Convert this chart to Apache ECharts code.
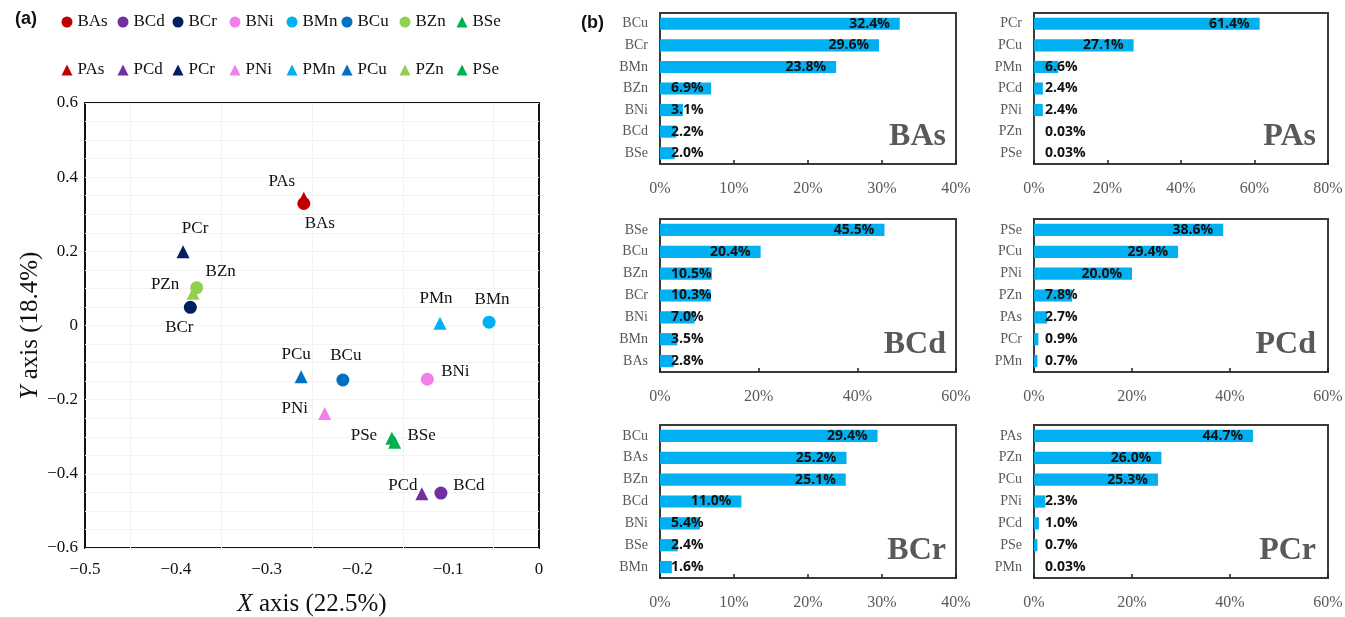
<!DOCTYPE html>
<html>
<head>
<meta charset="utf-8">
<script src="https://cdn.jsdelivr.net/npm/echarts@6/dist/echarts.min.js"></script>
<style>
  html, body { margin: 0; padding: 0; background: #fff; }
  #chart { width: 1345px; height: 617px; }
</style>
</head>
<body>
<div id="chart"></div>
<script>
// ---- (a) PCA loadings: one point per element source ----
const pointNames = ['BAs', 'BCd', 'BCr', 'BNi', 'BMn', 'BCu', 'BZn', 'BSe',
                    'PAs', 'PCd', 'PCr', 'PNi', 'PMn', 'PCu', 'PZn', 'PSe'];
const pointX = [-0.259, -0.108, -0.384, -0.123, -0.055, -0.216, -0.377, -0.159,
                -0.259, -0.129, -0.392, -0.236, -0.109, -0.262, -0.381, -0.162];
const pointY = [0.329, -0.452, 0.049, -0.145, 0.009, -0.147, 0.102, -0.315,
                0.343, -0.454, 0.199, -0.237, 0.006, -0.138, 0.087, -0.304];
const legendRow1 = ['BAs', 'BCd', 'BCr', 'BNi', 'BMn', 'BCu', 'BZn', 'BSe'];
const legendRow2 = ['PAs', 'PCd', 'PCr', 'PNi', 'PMn', 'PCu', 'PZn', 'PSe'];

// ---- (b) contribution shares (%) ----
const basCats = ['BCu', 'BCr', 'BMn', 'BZn', 'BNi', 'BCd', 'BSe'];
const basVals = [32.4, 29.6, 23.8, 6.9, 3.1, 2.2, 2.0];
const pasCats = ['PCr', 'PCu', 'PMn', 'PCd', 'PNi', 'PZn', 'PSe'];
const pasVals = [61.4, 27.1, 6.6, 2.4, 2.4, 0.03, 0.03];
const bcdCats = ['BSe', 'BCu', 'BZn', 'BCr', 'BNi', 'BMn', 'BAs'];
const bcdVals = [45.5, 20.4, 10.5, 10.3, 7.0, 3.5, 2.8];
const pcdCats = ['PSe', 'PCu', 'PNi', 'PZn', 'PAs', 'PCr', 'PMn'];
const pcdVals = [38.6, 29.4, 20.0, 7.8, 2.7, 0.9, 0.7];
const bcrCats = ['BCu', 'BAs', 'BZn', 'BCd', 'BNi', 'BSe', 'BMn'];
const bcrVals = [29.4, 25.2, 25.1, 11.0, 5.4, 2.4, 1.6];
const pcrCats = ['PAs', 'PZn', 'PCu', 'PNi', 'PCd', 'PSe', 'PMn'];
const pcrVals = [44.7, 26.0, 25.3, 2.3, 1.0, 0.7, 0.03];
const panelTitles = ['BAs', 'PAs', 'BCd', 'PCd', 'BCr', 'PCr'];
const panelMax = [40, 80, 60, 60, 40, 60];
const panelStep = [10, 20, 20, 20, 10, 20];

// ---- styling ----
const elementColor = {
  As: '#C00000', Cd: '#7030A0', Cr: '#002060', Ni: '#F27FEA',
  Mn: '#00B0F0', Cu: '#0070C0', Zn: '#92D050', Se: '#00B050'
};
const labelOffset = {
  PAs: [-22, -17], BAs: [16, 20], PCr: [12, -23], BZn: [24, -16],
  PZn: [-28, -9], BCr: [-11, 20], PMn: [-4, -25], BMn: [3, -23],
  PCu: [-5, -22], BCu: [3, -24], BNi: [28, -8], PNi: [-30, -5],
  PSe: [-28, -3], BSe: [27, -7], PCd: [-19, -8], BCd: [28, -8]
};
// left edge of each legend column (two rows share the same columns)
const legendColLeft = [61.5, 117.5, 172.5, 229.5, 286.5, 341.5, 399.5, 456.5];
const SERIF = '"Liberation Serif", "Times New Roman", serif';
const BAR_FONT = '"Open Sans", sans-serif';

function symbolFor(name) {
  return (name[0] === 'P' || name === 'BSe') ? 'triangle' : 'circle';
}
function minusFmt(v) {
  if (Math.abs(v) < 1e-9) return '0';
  return (v < 0 ? '\u2212' : '') + Math.abs(v).toFixed(1);
}

const chart = echarts.init(document.getElementById('chart'), null, { renderer: 'canvas' });

// scatter part
const scatterSeries = pointNames.map((name, i) => ({
  name: name,
  type: 'scatter',
  xAxisIndex: 0,
  yAxisIndex: 0,
  symbol: symbolFor(name),
  symbolSize: 13,
  z: name[0] === 'B' ? 4 : 3,
  itemStyle: { color: elementColor[name.slice(1)], opacity: 1 },
  label: {
    show: true,
    position: 'inside',
    offset: labelOffset[name],
    formatter: name,
    fontFamily: SERIF,
    fontSize: 17,
    color: '#111'
  },
  emphasis: { disabled: true },
  data: [[pointX[i], pointY[i]]]
}));

// bar panels
const panelCats = [basCats, pasCats, bcdCats, pcdCats, bcrCats, pcrCats];
const panelVals = [basVals, pasVals, bcdVals, pcdVals, bcrVals, pcrVals];
const colLeft = [660, 1034];
const colWidth = [296, 294];
const rowTop = [13, 219, 425];
const rowHeight = [151, 153, 153];

const measureCtx = document.createElement('canvas').getContext('2d');
measureCtx.font = 'bold 14px ' + BAR_FONT;
function pctText(v) { return (v < 0.1 ? v.toFixed(2) : v.toFixed(1)) + '%'; }

const faintLine = { color: '#f3f3f3', width: 1 };
const grids = [{ left: 85, top: 103, width: 454, height: 445, show: true,
  outerBoundsMode: 'none', containLabel: false,
  borderColor: '#111', borderWidth: 2, backgroundColor: 'transparent' }];
const xAxes = [{
  type: 'value', gridIndex: 0, min: -0.5, max: 0, interval: 0.1,
  axisLine: { show: false }, axisTick: { show: false },
  splitLine: { show: false },
  minorTick: { show: false, splitNumber: 2 },
  minorSplitLine: { show: true, lineStyle: faintLine },
  axisLabel: { formatter: minusFmt, fontFamily: SERIF, fontSize: 17, color: '#111', margin: 13 },
  name: '{i|X} axis (22.5%)', nameLocation: 'middle', nameGap: 44,
  nameTextStyle: {
    fontFamily: SERIF, fontSize: 25, color: '#111',
    rich: { i: { fontFamily: SERIF, fontSize: 25, fontStyle: 'italic', color: '#111' } }
  }
}];
const yAxes = [{
  type: 'value', gridIndex: 0, min: -0.6, max: 0.6, interval: 0.2,
  axisLine: { show: false }, axisTick: { show: false },
  splitLine: { show: true, lineStyle: faintLine },
  minorTick: { show: false, splitNumber: 4 },
  minorSplitLine: { show: true, lineStyle: faintLine },
  axisLabel: { formatter: minusFmt, fontFamily: SERIF, fontSize: 17, color: '#111', margin: 7 },
  name: '{i|Y} axis (18.4%)', nameLocation: 'middle', nameGap: 41, nameRotate: 90,
  nameTextStyle: {
    fontFamily: SERIF, fontSize: 25, color: '#111',
    rich: { i: { fontFamily: SERIF, fontSize: 25, fontStyle: 'italic', color: '#111' } }
  }
}];
const barSeries = [];
const graphics = [
  { type: 'text', left: 15, top: 10, style: { text: '(a)', font: 'bold 18px "Liberation Sans", Arial, sans-serif', fill: '#111' } },
  { type: 'text', left: 581, top: 14, style: { text: '(b)', font: 'bold 18px "Liberation Sans", Arial, sans-serif', fill: '#111' } }
];

panelCats.forEach((cats, p) => {
  const col = p % 2, row = Math.floor(p / 2);
  const gi = p + 1;
  const left = colLeft[col], width = colWidth[col];
  const top = rowTop[row], height = rowHeight[row];
  grids.push({ left: left, top: top, width: width, height: height, show: true,
    outerBoundsMode: 'none', containLabel: false,
    borderColor: '#3a3a3a', borderWidth: 2, backgroundColor: 'transparent' });
  xAxes.push({
    type: 'value', gridIndex: gi, min: 0, max: panelMax[p], interval: panelStep[p],
    axisLine: { show: false },
    axisTick: { show: true, inside: true, length: 4, lineStyle: { color: '#222', width: 1.5 } },
    splitLine: { show: false },
    axisLabel: { formatter: '{value}%', fontFamily: SERIF, fontSize: 16, color: '#595959', margin: 17 }
  });
  yAxes.push({
    type: 'category', gridIndex: gi, data: cats, inverse: true,
    axisLine: { show: false }, axisTick: { show: false },
    axisLabel: { fontFamily: SERIF, fontSize: 14, color: '#595959', margin: 12 }
  });
  const vals = panelVals[p];
  barSeries.push({
    type: 'bar', xAxisIndex: gi, yAxisIndex: gi,
    barWidth: '56%',
    itemStyle: { color: '#00B0F0' },
    emphasis: { disabled: true },
    data: vals.map(v => {
      const txt = pctText(v);
      const w = measureCtx.measureText(txt).width;
      const len = v / panelMax[p] * width;
      const fitsInside = len - 10 - w >= 11;
      return {
        value: v,
        label: {
          show: true,
          position: fitsInside ? 'insideRight' : 'insideLeft',
          distance: fitsInside ? 10 : 11,
          formatter: txt,
          fontFamily: BAR_FONT, fontWeight: 'bold', fontSize: 14, color: '#111'
        }
      };
    })
  });
  graphics.push({
    type: 'text',
    x: left + width - (col === 0 ? 10 : 12),
    y: top + height - 27,
    style: {
      text: panelTitles[p], fill: '#595959',
      font: 'bold 32px ' + SERIF,
      textAlign: 'right', textVerticalAlign: 'middle'
    }
  });
});

// one vertical legend per column so both rows line up
const legends = legendRow1.map((n, c) => ({
  orient: 'vertical', left: legendColLeft[c], top: 13.5, padding: 0,
  itemWidth: 11, itemHeight: 11, itemGap: 31,
  selectedMode: false,
  textStyle: { fontFamily: SERIF, fontSize: 17, color: '#111' },
  data: [n, legendRow2[c]].map(name => ({ name: name, icon: symbolFor(name) }))
}));

chart.setOption({
  animation: false,
  backgroundColor: '#fff',
  grid: grids,
  xAxis: xAxes,
  yAxis: yAxes,
  legend: legends,
  graphic: graphics,
  series: scatterSeries.concat(barSeries)
});
</script>
</body>
</html>
